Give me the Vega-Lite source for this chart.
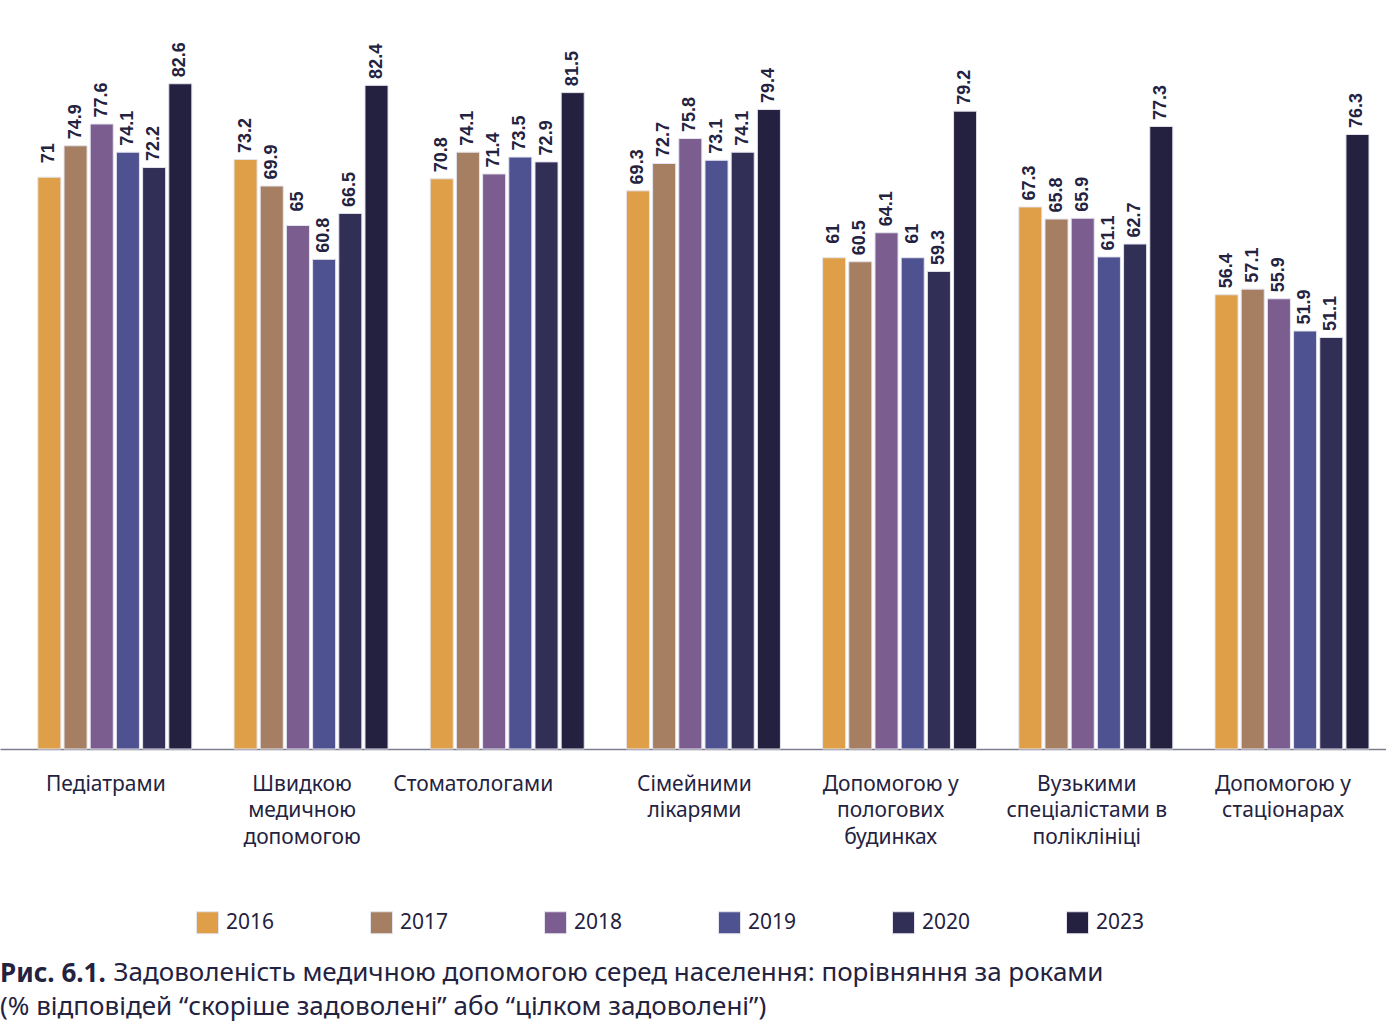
{
  "$schema": "https://vega.github.io/schema/vega-lite/v6.json",
  "width": 1386,
  "height": 749,
  "padding": {"left": 0, "top": 0, "right": 0, "bottom": 4},
  "autosize": {"type": "pad"},
  "background": "white",
  "config": {"view": {"stroke": null}, "font": "Noto Sans"},
  "title": {
    "text": "Рис. 6.1.",
    "subtitle": "(% відповідей “скоріше задоволені” або “цілком задоволені”)",
    "orient": "bottom",
    "anchor": "start",
    "frame": "bounds",
    "offset": -24,
    "font": "Noto Sans",
    "fontSize": 26,
    "fontWeight": "bold",
    "color": "#23223F",
    "subtitleFont": "Noto Sans",
    "subtitleFontSize": 26,
    "subtitleColor": "#23223F",
    "subtitlePadding": 7
  },
  "data": {
    "values": [
      {"cat": "Педіатрами", "year": "2016", "value": 71},
      {"cat": "Педіатрами", "year": "2017", "value": 74.9},
      {"cat": "Педіатрами", "year": "2018", "value": 77.6},
      {"cat": "Педіатрами", "year": "2019", "value": 74.1},
      {"cat": "Педіатрами", "year": "2020", "value": 72.2},
      {"cat": "Педіатрами", "year": "2023", "value": 82.6},
      {"cat": "Швидкою|медичною|допомогою", "year": "2016", "value": 73.2},
      {"cat": "Швидкою|медичною|допомогою", "year": "2017", "value": 69.9},
      {"cat": "Швидкою|медичною|допомогою", "year": "2018", "value": 65},
      {"cat": "Швидкою|медичною|допомогою", "year": "2019", "value": 60.8},
      {"cat": "Швидкою|медичною|допомогою", "year": "2020", "value": 66.5},
      {"cat": "Швидкою|медичною|допомогою", "year": "2023", "value": 82.4},
      {"cat": "Стоматологами", "year": "2016", "value": 70.8},
      {"cat": "Стоматологами", "year": "2017", "value": 74.1},
      {"cat": "Стоматологами", "year": "2018", "value": 71.4},
      {"cat": "Стоматологами", "year": "2019", "value": 73.5},
      {"cat": "Стоматологами", "year": "2020", "value": 72.9},
      {"cat": "Стоматологами", "year": "2023", "value": 81.5},
      {"cat": "Сімейними|лікарями", "year": "2016", "value": 69.3},
      {"cat": "Сімейними|лікарями", "year": "2017", "value": 72.7},
      {"cat": "Сімейними|лікарями", "year": "2018", "value": 75.8},
      {"cat": "Сімейними|лікарями", "year": "2019", "value": 73.1},
      {"cat": "Сімейними|лікарями", "year": "2020", "value": 74.1},
      {"cat": "Сімейними|лікарями", "year": "2023", "value": 79.4},
      {"cat": "Допомогою у|пологових|будинках", "year": "2016", "value": 61},
      {"cat": "Допомогою у|пологових|будинках", "year": "2017", "value": 60.5},
      {"cat": "Допомогою у|пологових|будинках", "year": "2018", "value": 64.1},
      {"cat": "Допомогою у|пологових|будинках", "year": "2019", "value": 61},
      {"cat": "Допомогою у|пологових|будинках", "year": "2020", "value": 59.3},
      {"cat": "Допомогою у|пологових|будинках", "year": "2023", "value": 79.2},
      {"cat": "Вузькими|спеціалістами в|поліклініці", "year": "2016", "value": 67.3},
      {"cat": "Вузькими|спеціалістами в|поліклініці", "year": "2017", "value": 65.8},
      {"cat": "Вузькими|спеціалістами в|поліклініці", "year": "2018", "value": 65.9},
      {"cat": "Вузькими|спеціалістами в|поліклініці", "year": "2019", "value": 61.1},
      {"cat": "Вузькими|спеціалістами в|поліклініці", "year": "2020", "value": 62.7},
      {"cat": "Вузькими|спеціалістами в|поліклініці", "year": "2023", "value": 77.3},
      {"cat": "Допомогою у|стаціонарах", "year": "2016", "value": 56.4},
      {"cat": "Допомогою у|стаціонарах", "year": "2017", "value": 57.1},
      {"cat": "Допомогою у|стаціонарах", "year": "2018", "value": 55.9},
      {"cat": "Допомогою у|стаціонарах", "year": "2019", "value": 51.9},
      {"cat": "Допомогою у|стаціонарах", "year": "2020", "value": 51.1},
      {"cat": "Допомогою у|стаціонарах", "year": "2023", "value": 76.3}
    ]
  },
  "encoding": {
    "x": {
      "field": "cat",
      "type": "nominal",
      "sort": null,
      "scale": {"paddingInner": 0.215, "paddingOuter": 0.1397, "align": 0.69},
      "axis": {
        "labelExpr": "split(datum.label, '|')",
        "labelAngle": 0,
        "labelFont": "Noto Sans",
        "labelFontSize": 21,
        "labelColor": "#23223F",
        "labelPadding": 24,
        "labelLineHeight": 26.5,
        "labelLimit": 300,
        "labelOffset": {"condition": {"test": "datum.value === 'Стоматологами'", "value": -34}, "value": -9},
        "ticks": false,
        "domainColor": "#7d7d90",
        "domainWidth": 1.5,
        "title": "Задоволеність медичною допомогою серед населення: порівняння за роками",
        "titleFont": "Noto Sans",
        "titleFontSize": 26,
        "titleFontWeight": "normal",
        "titleColor": "#23223F",
        "titleAnchor": "start",
        "titleAlign": "left",
        "titleBaseline": "alphabetic",
        "titleX": 113,
        "titleY": 231
      }
    },
    "xOffset": {"field": "year", "type": "nominal", "scale": {"paddingInner": 0.12, "paddingOuter": 0}},
    "y": {"field": "value", "type": "quantitative", "scale": {"domain": [0, 93]}, "axis": null}
  },
  "layer": [
    {
      "mark": {"type": "bar", "stroke": "#e4e4ee", "strokeWidth": 1},
      "encoding": {
        "color": {
          "field": "year",
          "type": "nominal",
          "scale": {
            "domain": ["2016", "2017", "2018", "2019", "2020", "2023"],
            "range": ["#DE9F48", "#A67F63", "#7B5E8F", "#4F5290", "#322F57", "#23213F"]
          },
          "legend": {
            "orient": "none",
            "legendX": 196,
            "legendY": 911,
            "direction": "horizontal",
            "columns": 6,
            "columnPadding": 93,
            "padding": 0,
            "title": null,
            "symbolType": "square",
            "symbolSize": 484,
            "symbolStrokeColor": "#e4e4ee",
            "symbolStrokeWidth": 1,
            "symbolOpacity": 1,
            "labelFont": "Noto Sans",
            "labelFontSize": 21,
            "labelColor": "#23223F",
            "labelOffset": 7
          }
        }
      }
    },
    {
      "mark": {
        "type": "text",
        "angle": 270,
        "align": "center",
        "baseline": "middle",
        "dx": 24,
        "font": "Liberation Sans",
        "fontWeight": "bold",
        "fontSize": 18,
        "color": "#23223F"
      },
      "encoding": {
        "text": {"field": "value", "type": "quantitative", "format": ".1~f"}
      }
    }
  ]
}
